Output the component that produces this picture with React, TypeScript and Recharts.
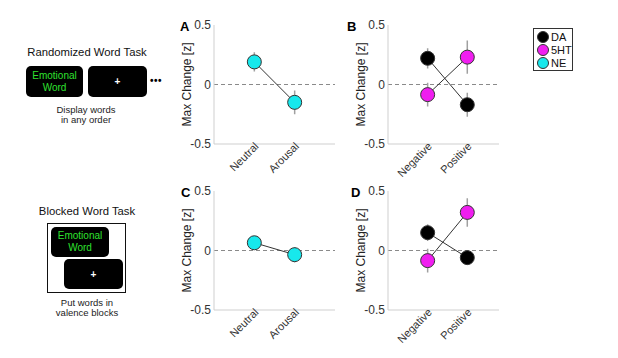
import React from 'react'
import {
  ComposedChart, Scatter, Line, XAxis, YAxis, ReferenceLine,
} from 'recharts'

// categories
const arousalCats = ['Neutral', 'Arousal']
const valenceCats = ['Negative', 'Positive']
const yTicks = [-0.5, 0, 0.5]

// randomized word task (A, B)
const randNE = [0.19, -0.15]
const randNEErr = [0.08, 0.1]
const randDA = [0.22, -0.17]
const randDAErr = [0.085, 0.1]
const rand5HT = [-0.085, 0.23]
const rand5HTErr = [0.1, 0.14]

// blocked word task (C, D)
const blockNE = [0.065, -0.035]
const blockNEErr = [0.04, 0.065]
const blockDA = [0.15, -0.06]
const blockDAErr = [0.07, 0.055]
const block5HT = [-0.085, 0.32]
const block5HTErr = [0.1, 0.12]

const legendNames = ['DA', '5HT', 'NE']
const COLORS: Record<string, string> = { DA: '#000000', '5HT': '#f01ef0', NE: '#17e8ec' }

const FONT = '"Liberation Sans", Arial, Helvetica, sans-serif'

interface Series {
  name: string
  values: number[]
  errors: number[]
}

const toRows = (s: Series) =>
  s.values.map((v, i) => ({ x: i + 1, y: v }))

// one two-point segment per mean, from mean-err to mean+err
const toErrSegments = (s: Series) =>
  s.values.map((v, i) => [
    { x: i + 1, y: v - s.errors[i] },
    { x: i + 1, y: v + s.errors[i] },
  ])

const Dot = (fill: string) => (props: any) => (
  <circle cx={props.cx} cy={props.cy} r={7} fill={fill} stroke="#333" strokeWidth={1} />
)

const RotTick = ({ x, y, payload, cats }: any) => {
  const label = cats[payload.value - 1] ?? ''
  const tx = x + 5
  const ty = y + 1
  return (
    <text
      x={tx} y={ty}
      transform={`rotate(-45 ${tx} ${ty})`}
      textAnchor="end"
      fontSize={11}
      fontFamily={FONT}
      fill="#333"
    >
      {label}
    </text>
  )
}

function Panel({ left, top, width, xMax, cats, series, letter, letterX }: {
  left: number; top: number; width: number; xMax: number
  cats: string[]; series: Series[]; letter: string; letterX: number
}) {
  return (
    <div style={{ position: 'absolute', left, top }}>
      <ComposedChart width={width} height={174} margin={{ top: 15, right: 5, bottom: 0, left: 0 }}>
        <XAxis
          type="number" dataKey="x" domain={[0, xMax]} ticks={[1, 2]}
          allowDataOverflow
          height={40}
          tickLine={false}
          tickSize={0}
          axisLine={{ stroke: '#cfcfcf' }}
          tick={<RotTick cats={cats} />}
          interval={0}
        />
        <YAxis
          type="number" domain={[-0.5, 0.5]} ticks={yTicks}
          width={54}
          tickLine={false}
          tickSize={2}
          tickMargin={1}
          axisLine={{ stroke: '#cfcfcf' }}
          tick={{ fontSize: 12, fill: '#333', fontFamily: FONT }}
          label={{
            value: 'Max Change [z]', angle: -90, position: 'center',
            style: { fontSize: 12, fill: '#222', fontFamily: FONT, textAnchor: 'middle' },
          }}
        />
        <ReferenceLine y={0} stroke="#8a8a8a" strokeDasharray="4 3" />
        {series.flatMap(s =>
          toErrSegments(s).map((seg, i) => (
            <Line
              key={`${s.name}-err-${i}`}
              data={seg}
              dataKey="y"
              stroke="#a0a0a0"
              strokeWidth={1.5}
              dot={false}
              activeDot={false}
              isAnimationActive={false}
            />
          ))
        )}
        {series.map(s => (
          <Scatter
            key={s.name}
            data={toRows(s)}
            dataKey="y"
            line={{ stroke: '#333', strokeWidth: 1 }}
            shape={Dot(COLORS[s.name])}
            isAnimationActive={false}
          />
        ))}
      </ComposedChart>
      <div style={{
        position: 'absolute', left: letterX, top: 9, fontSize: 13, fontWeight: 'bold',
        fontFamily: FONT, color: '#000',
      }}>{letter}</div>
    </div>
  )
}

const box = (extra: React.CSSProperties): React.CSSProperties => ({
  position: 'absolute', background: '#000', borderRadius: 5,
  display: 'flex', alignItems: 'center', justifyContent: 'center',
  textAlign: 'center', ...extra,
})

const greenText: React.CSSProperties = { color: '#2fe02f', fontSize: 10, lineHeight: '12px' }
const plusText: React.CSSProperties = { color: '#fff', fontSize: 10, fontWeight: 'bold' }
const caption: React.CSSProperties = {
  position: 'absolute', width: 140, textAlign: 'center', fontSize: 9.5, lineHeight: '10px', color: '#222',
}
const title: React.CSSProperties = {
  position: 'absolute', width: 140, textAlign: 'center', fontSize: 11.3, color: '#111',
}

export default function App() {
  return (
    <div style={{ position: 'relative', width: 618, height: 358, background: '#fff', fontFamily: FONT, overflow: 'hidden' }}>
      <style>{'body{margin:0}'}</style>

      {/* randomized task schematic */}
      <div style={{ ...title, left: 17, top: 46 }}>Randomized Word Task</div>
      <div style={box({ left: 26, top: 66, width: 57, height: 31 })}>
        <span style={greenText}>Emotional<br />Word</span>
      </div>
      <div style={box({ left: 88, top: 66, width: 59, height: 31 })}>
        <span style={plusText}>+</span>
      </div>
      <div style={{ position: 'absolute', left: 150, top: 75, fontSize: 10, fontWeight: 'bold', letterSpacing: 0.5 }}>•••</div>
      <div style={{ ...caption, left: 16, top: 105 }}>Display words<br />in any order</div>

      {/* blocked task schematic */}
      <div style={{ ...title, left: 17, top: 205 }}>Blocked Word Task</div>
      <div style={{ position: 'absolute', left: 47, top: 223, width: 77, height: 68, border: '1.5px solid #111' }} />
      <div style={box({ left: 51, top: 227, width: 58, height: 30 })}>
        <span style={greenText}>Emotional<br />Word</span>
      </div>
      <div style={box({ left: 64, top: 259, width: 59, height: 30 })}>
        <span style={plusText}>+</span>
      </div>
      <div style={{ ...caption, left: 17, top: 298 }}>Put words in<br />valence blocks</div>

      <Panel left={160} top={10} width={180} xMax={3} cats={arousalCats} letter="A" letterX={20}
        series={[{ name: 'NE', values: randNE, errors: randNEErr }]} />
      <Panel left={334} top={10} width={170} xMax={2.8} cats={valenceCats} letter="B" letterX={13}
        series={[
          { name: 'DA', values: randDA, errors: randDAErr },
          { name: '5HT', values: rand5HT, errors: rand5HTErr },
        ]} />
      <Panel left={160} top={176} width={180} xMax={3} cats={arousalCats} letter="C" letterX={21}
        series={[{ name: 'NE', values: blockNE, errors: blockNEErr }]} />
      <Panel left={334} top={176} width={170} xMax={2.8} cats={valenceCats} letter="D" letterX={17}
        series={[
          { name: 'DA', values: blockDA, errors: blockDAErr },
          { name: '5HT', values: block5HT, errors: block5HTErr },
        ]} />

      {/* legend */}
      <div style={{
        position: 'absolute', left: 533, top: 28, width: 40, height: 43,
        border: '1px solid #333', padding: '1px 0 0 3px', boxSizing: 'border-box',
      }}>
        {legendNames.map(n => (
          <div key={n} style={{ display: 'flex', alignItems: 'center', height: 13, fontSize: 11, color: '#111' }}>
            <span style={{
              width: 10, height: 10, borderRadius: '50%', background: COLORS[n],
              border: '1px solid #333', marginRight: 2, display: 'inline-block', flexShrink: 0,
            }} />
            {n}
          </div>
        ))}
      </div>
    </div>
  )
}
